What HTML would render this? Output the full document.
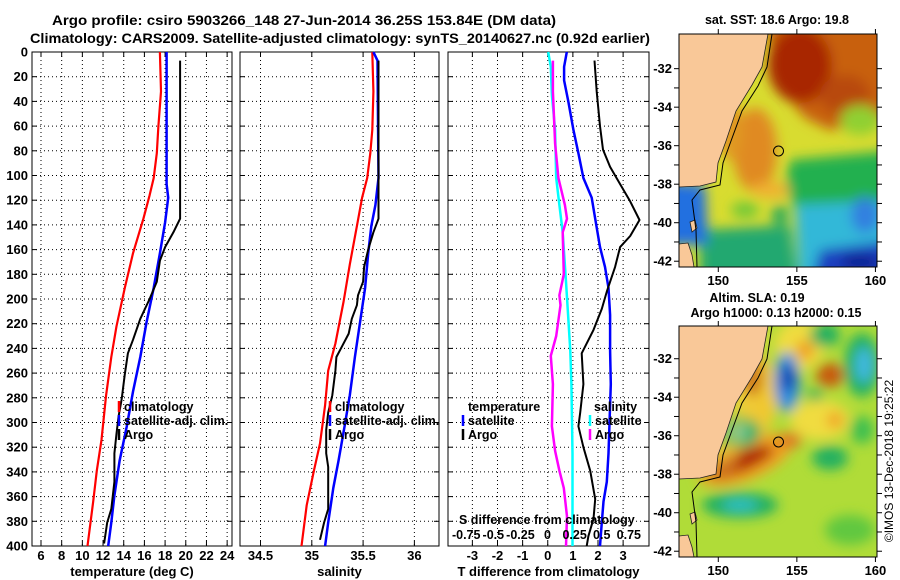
<!DOCTYPE html>
<html><head><meta charset="utf-8"><style>
html,body{margin:0;padding:0;background:#fff;}
svg{display:block;font-family:"Liberation Sans",sans-serif;font-weight:bold;}
</style></head><body>
<svg id="fig" width="900" height="580" viewBox="0 0 900 580" xmlns="http://www.w3.org/2000/svg">
<defs>
<filter id="blur" x="-20%" y="-20%" width="140%" height="140%"><feGaussianBlur stdDeviation="6"/></filter>
<clipPath id="clipTop"><rect x="679" y="34" width="198" height="233"/></clipPath>
<clipPath id="clipBot"><rect x="679" y="326" width="198" height="231"/></clipPath>
</defs>
<text x="304" y="25" font-size="14" text-anchor="middle" textLength="504" lengthAdjust="spacingAndGlyphs">Argo profile: csiro 5903266_148 27-Jun-2014 36.25S 153.84E (DM data)</text>
<text x="340" y="43" font-size="14" text-anchor="middle" textLength="620" lengthAdjust="spacingAndGlyphs">Climatology: CARS2009. Satellite-adjusted climatology: synTS_20140627.nc (0.92d earlier)</text>

<!-- SST map -->
<g>
<g clip-path="url(#clipTop)">
<rect x="679" y="34" width="198" height="233" fill="#d8dc30"/>
<g filter="url(#blur)">
<polygon points="765,10 900,10 900,110 860,125 830,130 805,118 785,95 772,65" fill="#c86010"/>
<ellipse cx="800" cy="65" rx="32" ry="38" fill="#a82800"/>
<ellipse cx="845" cy="95" rx="25" ry="20" fill="#b84a10"/>
<ellipse cx="755" cy="150" rx="22" ry="42" fill="#e08a20"/>
<ellipse cx="730" cy="130" rx="12" ry="30" fill="#e09a20"/>
<ellipse cx="860" cy="120" rx="20" ry="15" fill="#90d030"/>
<polygon points="790,160 900,150 900,215 800,215 785,190" fill="#20b050"/>
<polygon points="795,205 900,200 900,290 800,290" fill="#30b8d8"/>
<ellipse cx="865" cy="215" rx="14" ry="18" fill="#3080e0"/>
<polygon points="820,250 900,240 900,290 810,290" fill="#1a40c0"/>
<ellipse cx="860" cy="262" rx="20" ry="8" fill="#102090"/>
<polygon points="700,230 790,225 800,290 700,290" fill="#20a870"/>
<ellipse cx="770" cy="190" rx="20" ry="8" fill="#f0b030"/>
<ellipse cx="745" cy="210" rx="14" ry="8" fill="#70c838"/>
<ellipse cx="780" cy="215" rx="8" ry="10" fill="#20a860"/>
<polygon points="660,180 705,185 708,245 660,245" fill="#2070e0"/>
</g>
<polygon points="679,34 768,34 762,67 752,85 736,111 726,141 718,163 716,182 700,186 679,187" fill="#f9c898" stroke="#222" stroke-width="0.8"/>
<polygon points="679,244 688,243 692,255 694,267 679,267" fill="#f9c898" stroke="#222" stroke-width="0.8"/>
<polygon points="690,222 695,220 697,228 692,232" fill="#f9c898" stroke="#222" stroke-width="0.8"/>
<polyline points="772,34 767,67 758,86 742,111 731,141 723,163 720,185 700,190 692,200 696,230 697,267" fill="none" stroke="#000" stroke-width="1"/>
</g>
<rect x="679" y="34" width="198" height="233" fill="none" stroke="#000" stroke-width="1"/>
<circle cx="778.5" cy="151" r="5" fill="none" stroke="#000" stroke-width="1"/>
</g>
<text x="777" y="24" font-size="12.5" text-anchor="middle">sat. SST: 18.6 Argo: 19.8</text>

<!-- SLA map -->
<g>
<g clip-path="url(#clipBot)">
<rect x="679" y="326" width="198" height="231" fill="#b0dc38"/>
<g filter="url(#blur)">
<ellipse cx="800" cy="345" rx="25" ry="25" fill="#f0dc40"/>
<ellipse cx="805" cy="350" rx="9" ry="10" fill="#f0a020"/>
<ellipse cx="830" cy="375" rx="14" ry="12" fill="#c85810"/>
<ellipse cx="820" cy="420" rx="30" ry="20" fill="#f0dc40"/>
<ellipse cx="835" cy="420" rx="8" ry="8" fill="#f0a020"/>
<ellipse cx="757" cy="395" rx="20" ry="40" fill="#f0c830"/>
<ellipse cx="752" cy="375" rx="10" ry="22" fill="#b02800"/>
<ellipse cx="787" cy="382" rx="13" ry="30" fill="#3090e0"/>
<ellipse cx="788" cy="378" rx="7" ry="14" fill="#1040b0"/>
<ellipse cx="745" cy="460" rx="50" ry="20" fill="#f0a020" transform="rotate(-22 745 460)"/>
<ellipse cx="740" cy="462" rx="36" ry="10" fill="#b02000" transform="rotate(-22 740 462)"/>
<ellipse cx="790" cy="440" rx="12" ry="8" fill="#e07820"/>
<ellipse cx="738" cy="432" rx="22" ry="16" fill="#20b060"/>
<ellipse cx="738" cy="432" rx="10" ry="8" fill="#30c0d0"/>
<ellipse cx="825" cy="335" rx="15" ry="12" fill="#20b060"/>
<ellipse cx="862" cy="365" rx="18" ry="32" fill="#20b060"/>
<ellipse cx="864" cy="365" rx="9" ry="18" fill="#40b8e0"/>
<ellipse cx="740" cy="505" rx="38" ry="13" fill="#20b060"/>
<ellipse cx="740" cy="505" rx="18" ry="6" fill="#30c0c8"/>
<ellipse cx="830" cy="458" rx="18" ry="12" fill="#20b060"/>
<ellipse cx="862" cy="430" rx="12" ry="14" fill="#40c050"/>
<ellipse cx="815" cy="395" rx="8" ry="6" fill="#20b060"/>
<ellipse cx="850" cy="530" rx="25" ry="15" fill="#60c840"/>
<polygon points="740,326 770,326 760,380 735,470 705,480 700,420 720,380" fill="#f0d040" opacity="0.5"/>
</g>
<polygon points="679,326 768,326 762,359 752,377 736,403 726,433 718,455 716,474 700,478 679,479" fill="#f9c898" stroke="#222" stroke-width="0.8"/>
<polygon points="679,536 688,535 692,547 694,557 679,557" fill="#f9c898" stroke="#222" stroke-width="0.8"/>
<polygon points="690,514 695,512 697,520 692,524" fill="#f9c898" stroke="#222" stroke-width="0.8"/>
<polyline points="772,326 767,359 758,378 742,403 731,433 723,455 720,477 700,482 692,492 696,522 697,557" fill="none" stroke="#000" stroke-width="1"/>
</g>
<rect x="679" y="326" width="198" height="231" fill="none" stroke="#000" stroke-width="1"/>
<circle cx="778.5" cy="442" r="5" fill="none" stroke="#000" stroke-width="1"/>
</g>
<text x="757" y="302" font-size="12.5" text-anchor="middle">Altim. SLA: 0.19</text>
<text x="776" y="317" font-size="12.5" text-anchor="middle">Argo h1000: 0.13 h2000: 0.15</text>
<text x="0" y="0" font-size="12" font-weight="normal" text-anchor="middle" transform="translate(893,461) rotate(-90)">©IMOS 13-Dec-2018 19:25:22</text>
<g id="dyn"></g>
</svg>
<script>
// ---- data arrays ----
var depthTicks = [0,20,40,60,80,100,120,140,160,180,200,220,240,260,280,300,320,340,360,380,400];
var tempTicks = [6,8,10,12,14,16,18,20,22,24];
var salTicks = [34.5,35,35.5,36];
var salTickLabels = ["34.5","35","35.5","36"];
var tdiffTicks = [-3,-2,-1,0,1,2,3];
var sdiffTicks = [-0.75,-0.5,-0.25,0,0.25,0.5,0.75];
var sdiffTickLabels = ["-0.75","-0.5","-0.25","0","0.25","0.5","0.75"];
var latTicks = [-32,-34,-36,-38,-40,-42];
var lonTicks = [150,155,160];

var tClimDepth = [0,32,60,82,102,116,135,163,191,222,247,278,314,339,364,400];
var tClim = [17.5,17.6,17.35,17.2,16.9,16.5,15.9,14.9,14.1,13.3,12.8,12.3,11.85,11.4,11.05,10.5];
var tSatDepth = [0,107,118,138,163,191,219,247,275,303,331,359,381,400];
var tSat = [18.15,18.15,18.3,18.0,17.5,16.9,16.2,15.6,14.9,14.3,13.6,13.1,12.8,12.5];
var tArgoDepth = [7,135,146,158,169,186,200,216,233,244,261,281,295,309,325,348,370,381,398];
var tArgo = [19.45,19.45,18.8,18.0,17.5,17.2,16.5,15.6,14.9,14.4,14.1,13.8,13.5,13.3,13.1,13.1,12.8,12.4,12.1];

var sClimDepth = [0,32,63,82,102,118,141,172,202,236,258,286,317,339,367,400];
var sClim = [35.59,35.6,35.59,35.57,35.54,35.49,35.44,35.37,35.31,35.23,35.16,35.13,35.08,35.02,34.95,34.9];
var sSatDepth = [0,7,102,124,141,163,191,219,247,278,303,331,353,381,400];
var sSat = [35.6,35.64,35.65,35.62,35.58,35.55,35.52,35.47,35.42,35.37,35.32,35.26,35.21,35.16,35.13];
var sArgoDepth = [7,135,146,160,174,186,197,205,216,228,239,247,258,278,292,306,325,336,370,381,395];
var sArgo = [35.65,35.65,35.6,35.55,35.51,35.5,35.45,35.44,35.39,35.36,35.29,35.24,35.23,35.2,35.16,35.14,35.14,35.16,35.16,35.12,35.08];

var dTArgoDepth = [7,32,60,79,93,107,121,136,149,158,174,194,208,225,244,269,292,303,320,339,362,378,392,400];
var dTArgo = [1.86,1.95,2.08,2.2,2.48,2.88,3.28,3.65,3.28,2.88,2.68,2.35,2.15,1.82,1.35,1.42,1.29,1.22,1.42,1.69,1.89,1.82,1.62,1.55];
var dTSatDepth = [0,12,23,40,63,82,102,118,135,158,174,191,213,242,269,325,348,364,381,400];
var dTSat = [0.76,0.65,0.65,0.82,1.02,1.22,1.42,1.75,1.89,2.08,2.28,2.42,2.48,2.48,2.51,2.42,2.35,2.22,2.15,2.08];
var dSSatDepth = [0,12,35,63,102,124,146,186,213,242,269,325,400];
var dSSat = [0.006,0.03,0.04,0.07,0.08,0.11,0.14,0.17,0.19,0.21,0.22,0.23,0.23];
var dSArgoDepth = [7,32,74,102,124,135,146,180,197,205,230,246,269,303,323,339,353,376,400];
var dSArgo = [0.05,0.05,0.07,0.1,0.16,0.18,0.14,0.15,0.11,0.12,0.08,0.03,0.05,0.04,0.07,0.11,0.15,0.18,0.17];

// ---- scales ----
var Y0 = 52, Y1 = 546;
function yD(d){ return Y0 + d/400*(Y1-Y0); }
function lin(d0,d1,r0,r1){ return function(v){ return r0 + (v-d0)/(d1-d0)*(r1-r0); }; }
var xT = lin(5.13, 24.47, 32, 232);
var xS = lin(34.30, 36.24, 240, 439);
var xTd = lin(-3.97, 4.03, 448, 649);
var xSd = lin(-0.918, 0.936, 448, 649);
var yLatTop = lin(-30.2, -42.3, 34, 267);
var yLatBot = lin(-30.3, -42.3, 326, 557);
var xLon = lin(147.5, 160.1, 679, 877);

var NS = "http://www.w3.org/2000/svg";
var root = document.getElementById('dyn');
function mk(tag, attrs, parent){
  var e = document.createElementNS(NS, tag);
  for (var k in attrs) e.setAttribute(k, attrs[k]);
  (parent||root).appendChild(e);
  return e;
}

function drawPanel(name, x0, x1, xs, ticks, labels, yLabels, xTitle){
  var g = mk('g', {});
  
  
  ticks.forEach(function(t){
    var x = xs(t);
    var l = mk('line', {x1:x, x2:x, y1:Y0, y2:Y1, stroke:'#000', 'stroke-width':1, 'stroke-dasharray':'1,3'}, g);
    
    
    mk('line', {x1:x, x2:x, y1:Y1, y2:Y1-5, stroke:'#000'}, g);
    mk('line', {x1:x, x2:x, y1:Y0, y2:Y0+5, stroke:'#000'}, g);
  });
  depthTicks.forEach(function(d){
    var y = yD(d);
    if (d>0 && d<400){
      var l = mk('line', {x1:x0, x2:x1, y1:y, y2:y, stroke:'#000', 'stroke-width':1, 'stroke-dasharray':'1,3'}, g);
      
      
    }
    mk('line', {x1:x0, x2:x0+5, y1:y, y2:y, stroke:'#000'}, g);
    mk('line', {x1:x1, x2:x1-5, y1:y, y2:y, stroke:'#000'}, g);
    if (yLabels){
      var t = mk('text', {x:28, y:y+4.5, 'font-size':13, 'text-anchor':'end'}, g);
      
      
      t.textContent = d;
    }
  });
  var fr = mk('rect', {x:x0, y:Y0, width:x1-x0, height:Y1-Y0, fill:'none', stroke:'#000', 'stroke-width':1}, g);
  
  
  ticks.forEach(function(t,i){
    var tx = mk('text', {x:xs(t), y:560, 'font-size':13, 'text-anchor':'middle'}, g);
    
    
    tx.textContent = labels[i];
  });
  var ti = mk('text', {x:(x0+x1)/2, y:576, 'font-size':13, 'text-anchor':'middle'}, g);
  
  
  ti.textContent = xTitle;
}

function series(name, depths, vals, xs, color, w){
  var pts = vals.map(function(v,i){ return xs(v).toFixed(1)+','+yD(depths[i]).toFixed(1); }).join(' ');
  var p = mk('polyline', {points:pts, fill:'none', stroke:color, 'stroke-width':w, 'stroke-linejoin':'round'});
  
  
}

function legendEntry(name, xBar, y, color, label){
  var b = mk('line', {x1:xBar, x2:xBar, y1:y-10, y2:y+1, stroke:color, 'stroke-width':2.5});
  
  
  var t = mk('text', {x:xBar+5, y:y, 'font-size':12.5});
  
  
  t.textContent = label;
}

drawPanel('temperature-panel', 32, 232, xT, tempTicks, tempTicks.map(String), true, 'temperature (deg C)');
drawPanel('salinity-panel', 240, 439, xS, salTicks, salTickLabels, false, 'salinity');
drawPanel('difference-panel', 448, 649, xTd, tdiffTicks, tdiffTicks.map(String), false, 'T difference from climatology');

series('temp-climatology-line', tClimDepth, tClim, xT, '#ff0000', 2.2);
series('temp-satellite-line', tSatDepth, tSat, xT, '#0000ff', 2.5);
series('temp-argo-line', tArgoDepth, tArgo, xT, '#000000', 2);
series('sal-climatology-line', sClimDepth, sClim, xS, '#ff0000', 2.2);
series('sal-satellite-line', sSatDepth, sSat, xS, '#0000ff', 2.5);
series('sal-argo-line', sArgoDepth, sArgo, xS, '#000000', 2);
series('sdiff-satellite-line', dSSatDepth, dSSat, xSd, '#00ffff', 2.5);
series('sdiff-argo-line', dSArgoDepth, dSArgo, xSd, '#ff00ff', 2.5);
series('tdiff-satellite-line', dTSatDepth, dTSat, xTd, '#0000ff', 2.5);
series('tdiff-argo-line', dTArgoDepth, dTArgo, xTd, '#000000', 2);

legendEntry('legend-temp-climatology', 119, 411, '#ff0000', 'climatology');
legendEntry('legend-temp-satellite', 119, 425, '#0000ff', 'satellite-adj. clim.');
legendEntry('legend-temp-argo', 119, 439, '#000000', 'Argo');
legendEntry('legend-sal-climatology', 330, 411, '#ff0000', 'climatology');
legendEntry('legend-sal-satellite', 330, 425, '#0000ff', 'satellite-adj. clim.');
legendEntry('legend-sal-argo', 330, 439, '#000000', 'Argo');
var lt = mk('text', {x:468, y:411, 'font-size':12.5});


lt.textContent = 'temperature';
var ls = mk('text', {x:594, y:411, 'font-size':12.5});


ls.textContent = 'salinity';
legendEntry('legend-tdiff-satellite', 463, 425, '#0000ff', 'satellite');
legendEntry('legend-tdiff-argo', 463, 439, '#000000', 'Argo');
legendEntry('legend-sdiff-satellite', 590, 425, '#00ffff', 'satellite');
legendEntry('legend-sdiff-argo', 590, 439, '#ff00ff', 'Argo');

var st = mk('text', {x:459, y:524, 'font-size':12.5});


st.textContent = 'S difference from climatology';
sdiffTicks.forEach(function(s,i){
  var t = mk('text', {x:xSd(s), y:539, 'font-size':12.5, 'text-anchor':'middle'});
  
  
  t.textContent = sdiffTickLabels[i];
});

function mapAxes(prefix, yLat, top, bottom){
  latTicks.forEach(function(la){
    var y = yLat(la);
    mk('line', {x1:674, x2:679, y1:y, y2:y, stroke:'#000'});
    mk('line', {x1:877, x2:882, y1:y, y2:y, stroke:'#000'});
    var t = mk('text', {x:672, y:y+4.5, 'font-size':13, 'text-anchor':'end'});
    
    
    t.textContent = la;
  });
  [-33,-35,-37,-39,-41].forEach(function(la){
    var y = yLat(la);
    mk('line', {x1:674, x2:679, y1:y, y2:y, stroke:'#000'});
    mk('line', {x1:877, x2:882, y1:y, y2:y, stroke:'#000'});
  });
  lonTicks.forEach(function(lo){
    var x = xLon(lo);
    mk('line', {x1:x, x2:x, y1:bottom, y2:bottom+5, stroke:'#000'});
    mk('line', {x1:x, x2:x, y1:top, y2:top-5, stroke:'#000'});
    var t = mk('text', {x:x, y:bottom+18, 'font-size':13, 'text-anchor':'middle'});
    
    
    t.textContent = lo;
  });
}
mapAxes('sst-map', yLatTop, 34, 267);
mapAxes('sla-map', yLatBot, 326, 557);
</script>
</body></html>
